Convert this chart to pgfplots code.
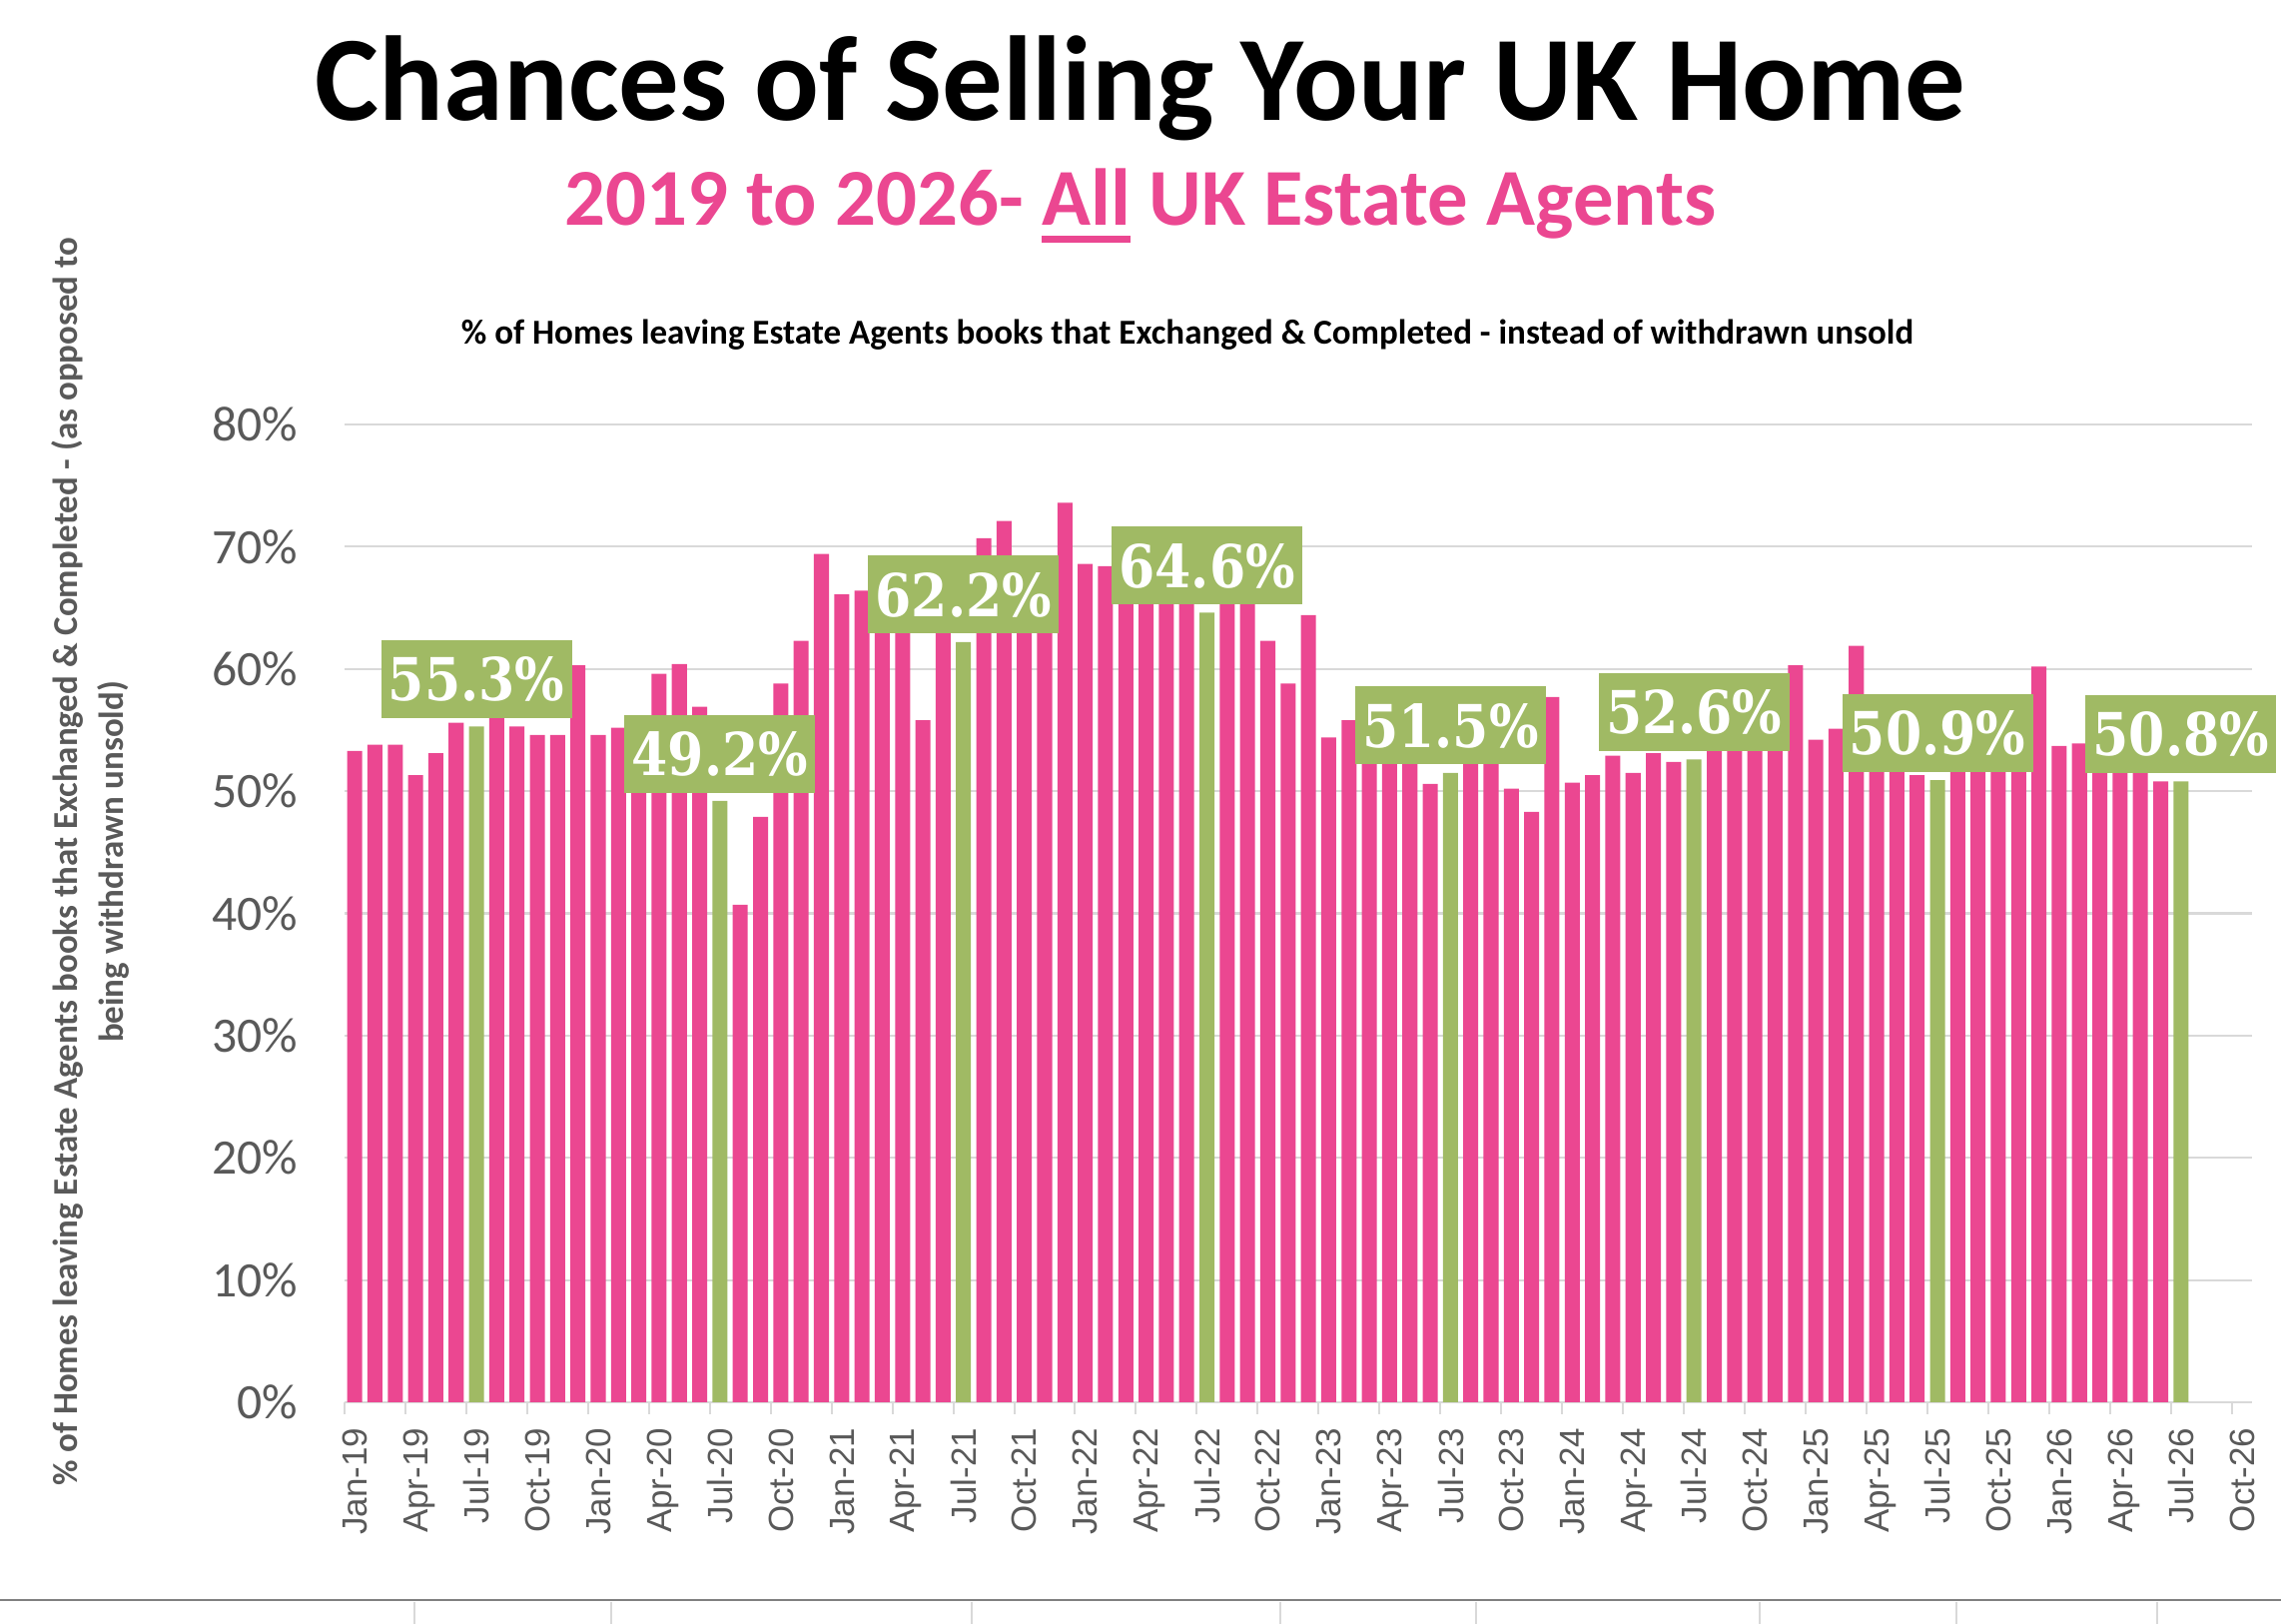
\documentclass[border=0pt]{standalone}
\usepackage{fontspec}
\setmainfont{Carlito}
\newfontfamily\arialfont{Liberation Sans}
\newfontfamily\slabfont[FakeStretch=0.88]{DejaVu Serif}
\usepackage{pgfplots}
\pgfplotsset{compat=1.18}
\usepackage{pgfplotstable}
\definecolor{pinkbar}{HTML}{EB4791}
\definecolor{greenbar}{HTML}{A0BA64}
\definecolor{txtgray}{HTML}{595959}
\definecolor{gridgray}{HTML}{D9D9D9}
\definecolor{linegray}{HTML}{808080}
\newcommand\ulx[1]{\setbox0\hbox{#1}\rlap{\rule[-4.2pt]{\wd0}{1.7pt}}\box0\relax}

\pgfplotstableread{
x y
0 53.3
1 53.8
2 53.8
3 51.3
4 53.1
5 55.6
7 56.5
8 55.3
9 54.6
10 54.6
11 60.3
12 54.6
13 55.2
14 55.0
15 59.6
16 60.4
17 56.9
19 40.7
20 47.9
21 58.8
22 62.3
23 69.4
24 66.1
25 66.4
26 66.5
27 65.5
28 55.8
29 63.5
31 70.7
32 72.1
33 66.0
34 67.0
35 73.6
36 68.6
37 68.4
38 67.5
39 66.5
40 66.0
41 67.0
43 67.5
44 66.5
45 62.3
46 58.8
47 64.4
48 54.4
49 55.8
50 55.0
51 54.0
52 53.5
53 50.6
55 53.5
56 53.0
57 50.2
58 48.3
59 57.7
60 50.7
61 51.3
62 52.9
63 51.5
64 53.1
65 52.4
67 55.0
68 54.5
69 55.0
70 54.5
71 60.3
72 54.2
73 55.1
74 61.9
75 53.5
76 52.5
77 51.3
79 53.0
80 53.5
81 54.0
82 53.5
83 60.2
84 53.7
85 53.9
86 53.0
87 52.5
88 52.0
89 50.8
}\pinkdata

\pgfplotstableread{
x y
6 55.3
18 49.2
30 62.2
42 64.6
54 51.5
66 52.6
78 50.9
90 50.8
}\greendata

\begin{document}
\begin{tikzpicture}
\path[use as bounding box] (0,0) rectangle (571pt,406.5pt);
\begin{axis}[
  at={(86.25pt,55.5pt)}, anchor=south west,
  scale only axis, width=477.5pt, height=244.75pt,
  xmin=-0.5, xmax=93.5, ymin=0, ymax=80,
  ybar, bar width=0.74, bar shift=0pt,
  axis lines*=left,
  y axis line style={draw=none},
  x axis line style={draw=gridgray, line width=0.6pt, -},
  ymajorgrids, grid style={gridgray, line width=0.55pt},
  ytick={0,10,...,80},
  yticklabels={0\%,10\%,20\%,30\%,40\%,50\%,60\%,70\%,80\%},
  ytick style={draw=none},
  major tick length=0pt,
  yticklabel style={font=\fontsize{12.4}{14}\selectfont, text=txtgray, anchor=east, inner sep=0pt},
  yticklabel shift=11.5pt,
  xtick={0,3,...,93},
  xticklabels={Jan-19,Apr-19,Jul-19,Oct-19,Jan-20,Apr-20,Jul-20,Oct-20,Jan-21,Apr-21,Jul-21,Oct-21,Jan-22,Apr-22,Jul-22,Oct-22,Jan-23,Apr-23,Jul-23,Oct-23,Jan-24,Apr-24,Jul-24,Oct-24,Jan-25,Apr-25,Jul-25,Oct-25,Jan-26,Apr-26,Jul-26,Oct-26},
  major x tick style={draw=none},
  minor xtick={-0.5,2.5,...,92.5},
  minor x tick style={draw=gridgray, line width=0.5pt},
  minor tick length=3pt,
  tick align=outside,
  xticklabel style={font=\arialfont\fontsize{8.75}{10}\selectfont, text=txtgray, rotate=90, anchor=east, inner sep=0pt, text depth=0pt},
  xticklabel shift=6.25pt,
  clip=false,
]
\addplot[fill=pinkbar, draw=none] table[x=x,y=y] {\pinkdata};
\addplot[fill=greenbar, draw=none,
  nodes near coords={\pgfmathprintnumber[fixed,fixed zerofill,precision=1,assume math mode=true]{\pgfplotspointmeta}\%},
  every node near coord/.append style={font=\slabfont\bfseries\fontsize{14.8}{16}\selectfont, text=white, fill=greenbar, inner sep=0pt, minimum width=47.75pt, minimum height=19.5pt, anchor=south, yshift=1.9pt, text depth=0pt}
] table[x=x,y=y] {\greendata};
\end{axis}
\node[anchor=base, font=\bfseries\fontsize{30.2}{36}\selectfont] at (285.5pt,376.25pt) {Chances of Selling Your UK Home};
\node[anchor=base, text=pinkbar, font=\bfseries\fontsize{20.2}{24}\selectfont] at (285.5pt,350pt) {2019 to 2026- \ulx{All} UK Estate Agents};
\node[anchor=base, font=\bfseries\fontsize{8.75}{10}\selectfont] at (297.25pt,320.25pt) {\% of Homes leaving Estate Agents books that Exchanged \& Completed - instead of withdrawn unsold};
\node[rotate=90, align=center, text=txtgray, font=\bfseries\fontsize{8.73}{11.5}\selectfont] at (22.75pt,190.75pt) {\% of Homes leaving Estate Agents books that Exchanged \& Completed - (as opposed to\\being withdrawn unsold)};
\draw[linegray, line width=0.35pt] (0pt,6pt) -- (571pt,6pt);
\foreach \xx in {415,612,973,1282,1478,1762,1959,2160}
  \draw[gridgray, line width=0.4pt] (\xx*0.25pt,5.6pt) -- (\xx*0.25pt,0pt);
\end{tikzpicture}
\end{document}
